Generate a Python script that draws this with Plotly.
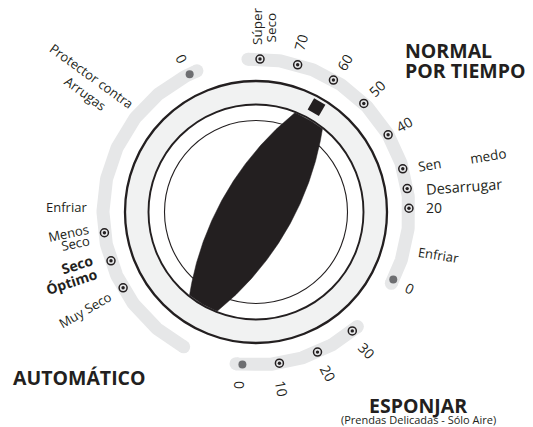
import numpy as np
import plotly.graph_objects as go

# ---------------- data (angles in degrees, clockwise from 12 o'clock) ----------------
normal_dot_angles = [1.5, 15.8, 30.4, 44.8, 59.7, 73.6, 81.2, 88.6]
normal_off_angle = [116.2]
normal_track = [-3.0, 117.8]

auto_dot_angles = [240.3, 251.4, 262.2]
auto_off_angle = [334.3]
auto_track = [208.2, 337.3]

esponjar_dot_angles = [141.0, 156.3, 171.2]
esponjar_off_angle = [185.1]
esponjar_track = [138.5, 187.5]

pointer_angle = 30.0

normal_numbers = ["70", "60", "50", "40", "20", "0"]
esponjar_numbers = ["30", "20", "10", "0"]
auto_labels = ["Muy Seco", "Seco", "Óptimo", "Menos", "Seco", "Enfriar",
               "Protector contra", "Arrugas", "0"]
normal_labels = ["Súper", "Seco", "Sen", "medo", "Desarrugar", "Enfriar"]
titles = ["NORMAL", "POR TIEMPO", "AUTOMÁTICO", "ESPONJAR", "(Prendas Delicadas - Sólo Aire)"]

# ---------------- geometry / style ----------------
W, H = 533, 427
BODY = 8  # default page margin around the figure
CX, CY = 256.0, 212.0
R_TRACK = 153.0
INK = "#231f20"
TRACK = "#e6e7e8"
BAND = "#f1f2f2"
OFF = "#6d6e71"
FONT = "Open Sans"


def pol(a, r):
    a = np.radians(np.asarray(a, dtype=float))
    return CX + r * np.sin(a), CY - r * np.cos(a)


fig = go.Figure()

# tracks with round ends
for a0, a1 in (normal_track, auto_track, esponjar_track):
    aa = np.linspace(a0, a1, 200)
    x, y = pol(aa, R_TRACK)
    fig.add_trace(go.Scatter(x=x, y=y, mode="lines", line=dict(color=TRACK, width=13),
                             hoverinfo="skip"))
    ex, ey = pol([a0, a1], R_TRACK)
    fig.add_trace(go.Scatter(x=ex, y=ey, mode="markers",
                             marker=dict(color=TRACK, size=13, line=dict(width=0)),
                             hoverinfo="skip"))

# setting dots
dots = normal_dot_angles + auto_dot_angles + esponjar_dot_angles
dx, dy = pol(dots, R_TRACK)
fig.add_trace(go.Scatter(x=dx, y=dy, mode="markers",
                         marker=dict(symbol="circle-open", size=8, color=INK,
                                     line=dict(color=INK, width=1.5)),
                         hoverinfo="skip"))
fig.add_trace(go.Scatter(x=dx, y=dy, mode="markers",
                         marker=dict(symbol="circle", size=3.4, color=INK, line=dict(width=0)),
                         hoverinfo="skip"))
offs = normal_off_angle + auto_off_angle + esponjar_off_angle
ox, oy = pol(offs, R_TRACK)
fig.add_trace(go.Scatter(x=ox, y=oy, mode="markers",
                         marker=dict(symbol="circle", size=8, color=OFF, line=dict(width=0)),
                         hoverinfo="skip"))

# knob rings (shapes below traces)
for r, fill, lw in ((131, BAND, 2.3), (107.5, "white", 1.9), (91.5, None, 1.1)):
    fig.add_shape(type="circle", xref="x", yref="y", x0=CX - r, x1=CX + r, y0=CY - r, y1=CY + r,
                  line=dict(color=INK, width=lw), fillcolor=fill if fill else "rgba(0,0,0,0)",
                  layer="below")

# pointer lens (vesica) clipped by the inner ring
L, W0 = 140.0, 35.5
Rarc = (L * L + W0 * W0) / (2 * W0)
th = np.radians(pointer_angle)
u = np.array([np.sin(th), -np.cos(th)])
v = np.array([np.cos(th), np.sin(th)])
s = np.linspace(-L, L, 300)
w = np.sqrt(np.maximum(Rarc ** 2 - s ** 2, 0)) - (Rarc - W0)
px = np.concatenate([CX + s * u[0] + w * v[0], CX + s[::-1] * u[0] - w[::-1] * v[0]])
py = np.concatenate([CY + s * u[1] + w * v[1], CY + s[::-1] * u[1] - w[::-1] * v[1]])
rr = np.hypot(px - CX, py - CY)
k = np.minimum(1.0, 106.5 / np.maximum(rr, 1e-9))
px = CX + (px - CX) * k
py = CY + (py - CY) * k
fig.add_trace(go.Scatter(x=px, y=py, mode="lines", fill="toself", fillcolor=INK,
                         line=dict(color=INK, width=0.5), hoverinfo="skip"))
sx, sy = pol([pointer_angle], 121)
fig.add_trace(go.Scatter(x=sx, y=sy, mode="markers",
                         marker=dict(symbol="square", size=13, color=INK, angle=pointer_angle,
                                     line=dict(width=0)),
                         hoverinfo="skip"))


def note(text, x, y, angle=0, size=13, bold=False, xanchor="center"):
    fig.add_annotation(x=x, y=y, xref="x", yref="y", text=f"<b>{text}</b>" if bold else text,
                       showarrow=False, textangle=angle, xanchor=xanchor,
                       yanchor="middle", font=dict(family=FONT, size=size, color=INK))


# normal (timed) side
note(normal_labels[0], 257, 26, -90, 13.5)
note(normal_labels[1], 270, 27.5, -90, 13.5)
num_pos = [(300.8, 42.5, -75), (344.7, 62.7, -60), (377, 88.3, -45), (403.7, 124, -30),
           (434.2, 207.5, 0), (410.3, 288, 26)]
for t, (x, y, a) in zip(normal_numbers, num_pos):
    note(t, x, y, a, 14)
note(normal_labels[2], 429, 165, -9, 13.5)
note(normal_labels[3], 488, 156, -9, 13.5)
note(normal_labels[4], 464, 186.5, -4, 14.5)
note(normal_labels[5], 438.7, 254.7, 9)

# esponjar side
esp_pos = [(366.7, 350, 45), (328.3, 373.3, 62), (281.7, 388.3, 80), (240, 385, 90)]
for t, (x, y, a) in zip(esponjar_numbers, esp_pos):
    note(t, x, y, a, 14)

# automatic side
note(auto_labels[0], 85, 310, -30)
note(auto_labels[1], 76.7, 264, -18, 14, bold=True)
note(auto_labels[2], 71.7, 281, -18, 14, bold=True)
note(auto_labels[3], 68.3, 233.3, -12)
note(auto_labels[4], 75.8, 242.5, -12)
note(auto_labels[5], 66.7, 206.7, 0)
note(auto_labels[6], 91.7, 75.8, 36)
note(auto_labels[7], 85, 92.7, 36)
note(auto_labels[8], 181.7, 58.3, 64, 14)

# titles
note(titles[0], 403, 50, 0, 19.5, bold=True, xanchor="left")
note(titles[1], 403, 70.5, 0, 19.5, bold=True, xanchor="left")
note(titles[2], 11, 377.5, 0, 19.5, bold=True, xanchor="left")
note(titles[3], 418, 405.5, 0, 19.5, bold=True)
note(titles[4], 418, 419.5, 0, 11)

# the figure div sits BODY px inside the page: shift ranges so coordinates are page pixels
fig.update_layout(
    width=W - BODY, height=H - BODY, autosize=False,
    margin=dict(l=0, r=0, t=0, b=0, pad=0),
    paper_bgcolor="white", plot_bgcolor="white",
    showlegend=False, hovermode=False,
    xaxis=dict(range=[BODY, W], visible=False, fixedrange=True),
    yaxis=dict(range=[H, BODY], visible=False, fixedrange=True),
)
fig.write_html("out.html")
